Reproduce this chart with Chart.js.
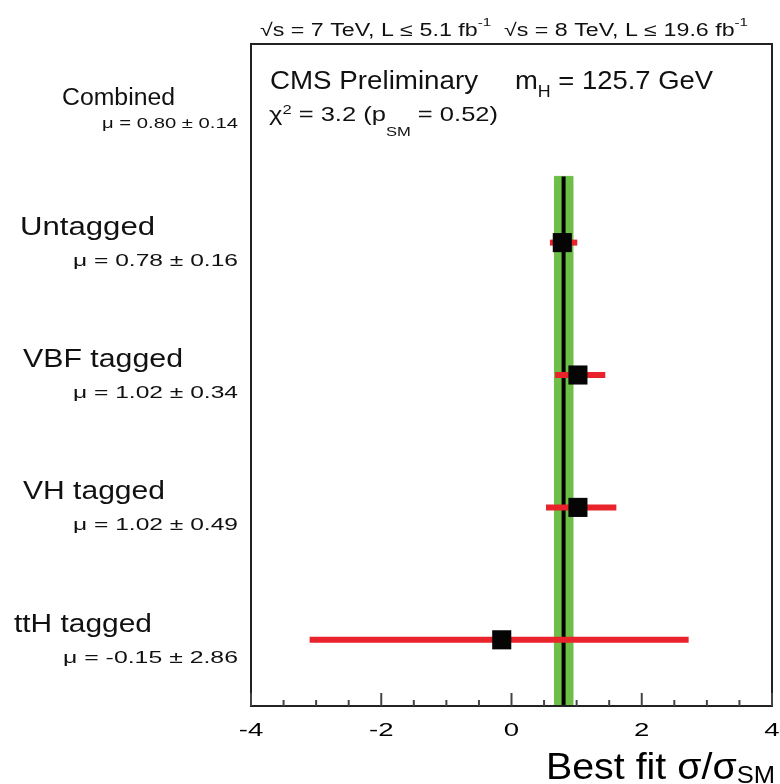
<!DOCTYPE html>
<html>
<head>
<meta charset="utf-8">
<script src="https://cdn.jsdelivr.net/npm/chart.js@4.4.1/dist/chart.umd.min.js"></script>
<style>
  html, body { margin: 0; background: #fff; }
</style>
</head>
<body>
<canvas id="c" width="780" height="784"></canvas>
<script>
'use strict';

// categories bottom to top
const CATEGORIES = ['ttH tagged', 'VH tagged', 'VBF tagged', 'Untagged'];
const CAT_POS    = [0.5, 1.5, 2.5, 3.5];
const MU         = [-0.15, 1.02, 1.02, 0.78];
const MU_LO      = [-3.10, 0.53, 0.67, 0.59];
const MU_HI      = [2.72, 1.61, 1.44, 1.01];
const MU_TEXT    = ['μ = -0.15 ± 2.86', 'μ = 1.02 ± 0.49', 'μ = 1.02 ± 0.34', 'μ = 0.78 ± 0.16'];

const COMBINED_LABEL = 'Combined';
const COMBINED_TEXT  = 'μ = 0.80 ± 0.14';
const COMBINED_POS   = 4.5;
const COMBINED_MU    = 0.80;
const COMBINED_ERR   = 0.14;
const BAND_TOP       = 4.0;

const X_LABELS = [-4, -2, 0, 2, 4];
const X_MINOR  = [-4, -3.5, -3, -2.5, -2, -1.5, -1, -0.5, 0, 0.5, 1, 1.5, 2, 2.5, 3, 3.5, 4];

const GREEN = '#6dbf47';
const RED   = '#e8232b';
const FONT  = '"Liberation Sans", Arial, sans-serif';

// draw text made of parts [text, kind, dy]; kind 'sup' / 'sub' gives smaller text
function drawRich(ctx, parts, x, y, size, opts = {}) {
  ctx.save();
  ctx.textBaseline = 'alphabetic';
  ctx.textAlign = 'left';
  const sizeOf = k => (k ? size * 0.65 : size);
  let total = 0;
  const widths = parts.map(([t, k]) => {
    ctx.font = `${sizeOf(k)}px ${FONT}`;
    const w = ctx.measureText(t).width;
    total += w;
    return w;
  });
  const sx = opts.width ? opts.width / total : (opts.sx || 1);
  let left = x;
  if (opts.align === 'center') left = x - total * sx / 2;
  if (opts.align === 'right') left = x - total * sx;
  ctx.translate(left, y);
  ctx.scale(sx, 1);
  ctx.fillStyle = opts.color || '#111';
  let cx = 0;
  parts.forEach(([t, k, dy], i) => {
    ctx.font = `${sizeOf(k)}px ${FONT}`;
    let off = 0;
    if (k === 'sup') off = dy !== undefined ? dy : -size * 0.45;
    if (k === 'sub') off = dy !== undefined ? dy : size * 0.3;
    ctx.fillText(t, cx, off);
    cx += widths[i];
  });
  ctx.restore();
}

const decorPlugin = {
  id: 'decor',
  afterDatasetsDraw(chart) {
    const { ctx, chartArea: a, scales: { x, y } } = chart;

    // frame
    ctx.save();
    ctx.strokeStyle = '#222';
    ctx.lineWidth = 2;
    ctx.strokeRect(a.left, a.top, a.right - a.left, a.bottom - a.top);

    // inward ticks on the bottom axis
    ctx.strokeStyle = '#444';
    X_MINOR.forEach(v => {
      const px = x.getPixelForValue(v);
      const len = X_LABELS.includes(v) ? 13 : 6;
      ctx.beginPath();
      ctx.moveTo(px, a.bottom);
      ctx.lineTo(px, a.bottom - len);
      ctx.stroke();
    });
    ctx.restore();

    X_LABELS.forEach(v => {
      drawRich(ctx, [[String(v)]], x.getPixelForValue(v), a.bottom + 30, 19, { sx: 1.45, align: 'center', color: '#000' });
    });

    // axis title
    drawRich(ctx, [['Best fit σ/σ'], ['SM', 'sub', 4]], 546, a.bottom + 73, 36, { width: 229, color: '#000' });

    // header and inside texts
    drawRich(ctx, [['√s = 7 TeV, L ≤ 5.1 fb'], ['-1', 'sup', -10],
                   ['  √s = 8 TeV, L ≤ 19.6 fb'], ['-1', 'sup', -10]], 260, 36, 18, { width: 488 });
    drawRich(ctx, [['CMS Preliminary']], 270, 89, 25, { width: 208 });
    drawRich(ctx, [['m'], ['H', 'sub', 8], [' = 125.7 GeV']], 515, 89, 25, { width: 198 });
    drawRich(ctx, [['χ'], ['2', 'sup', -7], [' = 3.2 (p'], ['SM', 'sub', 15], [' = 0.52)']], 269, 121, 21, { width: 229 });

    // category labels at left
    const nameBox = [[14, 138], [23, 142], [23, 160], [20, 135]];
    const muLeft  = [63, 73, 73, 73];
    CATEGORIES.forEach((name, i) => {
      const py = y.getPixelForValue(CAT_POS[i]);
      drawRich(ctx, [[name]], nameBox[i][0], py - 8, 26, { width: nameBox[i][1] });
      drawRich(ctx, [[MU_TEXT[i]]], muLeft[i], py + 23, 17, { width: 238 - muLeft[i] });
    });
    const cy = y.getPixelForValue(COMBINED_POS);
    drawRich(ctx, [[COMBINED_LABEL]], 62, cy - 5, 23, { width: 113 });
    drawRich(ctx, [[COMBINED_TEXT]], 102, cy + 18, 14, { width: 136 });
  }
};

const datasets = [];

datasets.push({
  data: [
    { x: COMBINED_MU - COMBINED_ERR, y: 0 },
    { x: COMBINED_MU - COMBINED_ERR, y: BAND_TOP },
    { x: COMBINED_MU + COMBINED_ERR, y: BAND_TOP },
    { x: COMBINED_MU + COMBINED_ERR, y: 0 },
  ],
  showLine: true,
  fill: 'shape',
  backgroundColor: GREEN,
  borderColor: GREEN,
  borderWidth: 1,
  pointRadius: 0,
  order: 4,
});

datasets.push({
  data: [{ x: COMBINED_MU, y: 0 }, { x: COMBINED_MU, y: BAND_TOP }],
  showLine: true,
  borderColor: '#000',
  borderWidth: 4,
  pointRadius: 0,
  order: 3,
});

CATEGORIES.forEach((c, i) => {
  datasets.push({
    data: [{ x: MU_LO[i], y: CAT_POS[i] }, { x: MU_HI[i], y: CAT_POS[i] }],
    showLine: true,
    borderColor: RED,
    borderWidth: 6,
    borderCapStyle: 'butt',
    pointRadius: 0,
    order: 2,
  });
});

datasets.push({
  data: MU.map((m, i) => ({ x: m, y: CAT_POS[i] })),
  pointStyle: 'rect',
  pointRadius: 13.5,
  backgroundColor: '#050505',
  borderWidth: 0,
  order: 1,
});

new Chart(document.getElementById('c'), {
  type: 'scatter',
  data: { datasets },
  plugins: [decorPlugin],
  options: {
    responsive: false,
    animation: false,
    layout: { autoPadding: false, padding: { left: 251, right: 8, top: 44, bottom: 78 } },
    plugins: { legend: { display: false }, tooltip: { enabled: false } },
    scales: {
      x: { type: 'linear', min: -4, max: 4, display: false },
      y: { type: 'linear', min: 0, max: 5, display: false },
    },
  },
});
</script>
</body>
</html>
